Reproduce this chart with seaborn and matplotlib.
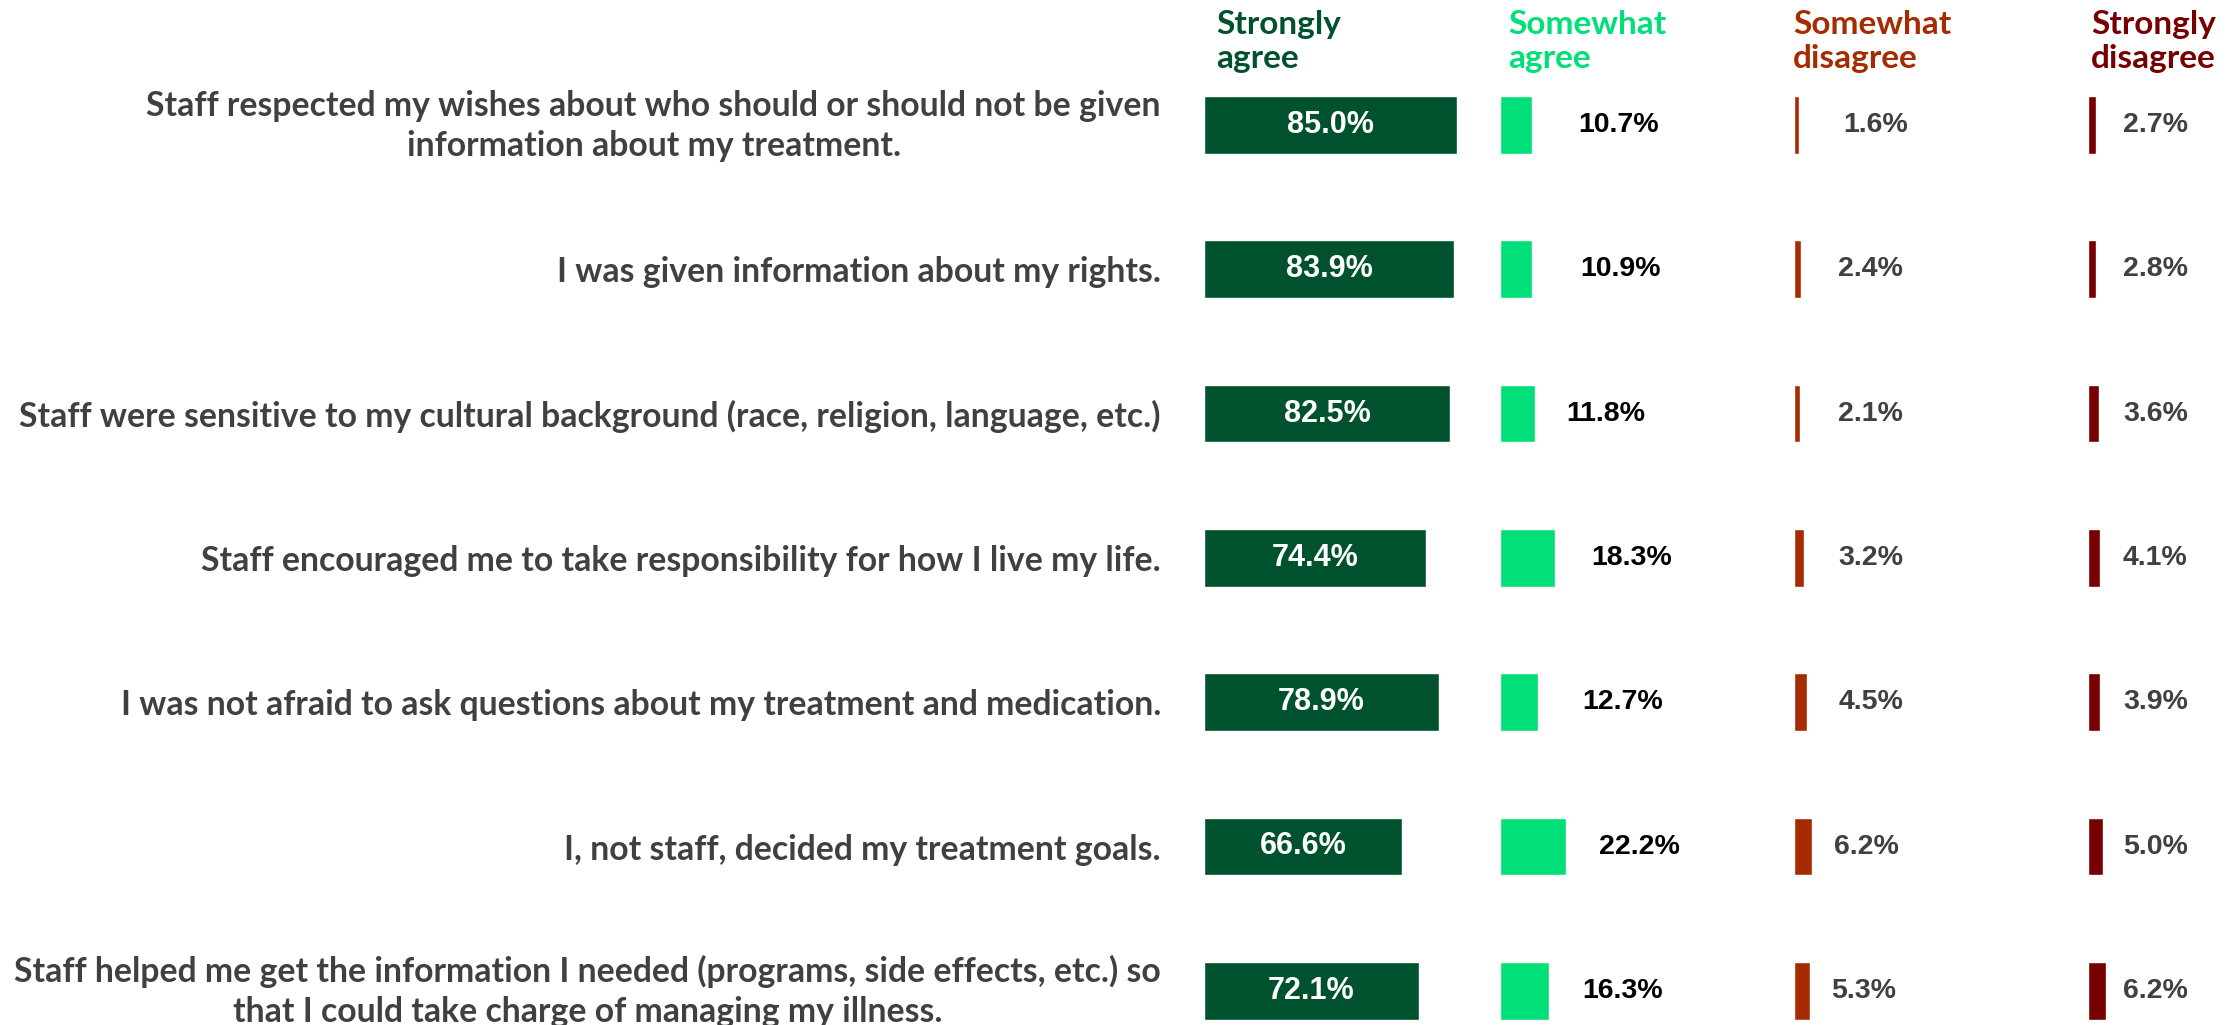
import matplotlib
matplotlib.use("Agg")
import matplotlib.pyplot as plt
import matplotlib.transforms as mtransforms
import seaborn as sns
import pandas as pd

statements = [
    "Staff respected my wishes about who should or should not be given\ninformation about my treatment.",
    "I was given information about my rights.",
    "Staff were sensitive to my cultural background (race, religion, language, etc.)",
    "Staff encouraged me to take responsibility for how I live my life.",
    "I was not afraid to ask questions about my treatment and medication.",
    "I, not staff, decided my treatment goals.",
    "Staff helped me get the information I needed (programs, side effects, etc.) so\nthat I could take charge of managing my illness.",
]
strongly_agree = [85.0, 83.9, 82.5, 74.4, 78.9, 66.6, 72.1]
somewhat_agree = [10.7, 10.9, 11.8, 18.3, 12.7, 22.2, 16.3]
somewhat_disagree = [1.6, 2.4, 2.1, 3.2, 4.5, 6.2, 5.3]
strongly_disagree = [2.7, 2.8, 3.6, 4.1, 3.9, 5.0, 6.2]

headers = ["Strongly\nagree", "Somewhat\nagree", "Somewhat\ndisagree", "Strongly\ndisagree"]
colors = ["#00522E", "#00DF78", "#A62B00", "#760000"]

df = pd.DataFrame({
    "statement": statements,
    "Strongly agree": strongly_agree,
    "Somewhat agree": somewhat_agree,
    "Somewhat disagree": somewhat_disagree,
    "Strongly disagree": strongly_disagree,
})
columns = ["Strongly agree", "Somewhat agree", "Somewhat disagree", "Strongly disagree"]

sns.set_style("white")
humanist = ["Lato", "DejaVu Sans"]
regular = ["Liberation Sans", "DejaVu Sans"]

W, H = 2235, 1025
fig = plt.figure(figsize=(W / 100, H / 100), dpi=100)

px_per_pct = 2.98
panel_left = [1204, 1500, 1794, 2088]
panel_width = [296, 294, 294, 147]
header_x = [1216, 1508, 1793, 2091]
row0, row_step = 125, 144.3

# label positions (in % units) for the outside labels
agree_pad = [15.5, 15.9, 10.3, 12.2, 14.8, 11.0, 11.2]
disagree_x = [16.4, 14.9, 14.9, 14.9, 14.9, 13.4, 12.4]
strong_dis_x = 11.7

for i, col in enumerate(columns):
    ax = fig.add_axes([panel_left[i] / W, 0, panel_width[i] / W, 1])
    sns.barplot(data=df, x=col, y="statement", orient="h", color=colors[i],
                width=0.40, saturation=1, ax=ax)
    ax.set_xlim(0, panel_width[i] / px_per_pct)
    ax.set_ylim((H - row0) / row_step, -row0 / row_step)
    ax.set_xlabel("")
    ax.set_ylabel("")
    ax.set_xticks([])
    sns.despine(ax=ax, left=True, bottom=True)
    ax.patch.set_alpha(0)
    vals = df[col].tolist()
    for j, v in enumerate(vals):
        if i == 0:
            ax.text(v / 2, j, f"{v:.1f}%", ha="center", va="center", color="white",
                    fontsize=22, fontweight="bold", family=regular)
        elif i == 1:
            ax.text(v + agree_pad[j], j, f"{v:.1f}%", ha="left", va="center", color="black",
                    fontsize=20.5, fontweight="bold", family=regular)
        elif i == 2:
            ax.text(disagree_x[j], j, f"{v:.1f}%", ha="left", va="center", color="#404040",
                    fontsize=20.5, fontweight="bold", family=regular)
        else:
            ax.text(strong_dis_x, j, f"{v:.1f}%", ha="left", va="center", color="#404040",
                    fontsize=20.5, fontweight="bold", family=regular)
    if i == 0:
        ax.tick_params(axis="y", length=0, pad=31)
        shift_up = mtransforms.ScaledTranslation(0, 6 / 100, fig.dpi_scale_trans)
        for lab in ax.get_yticklabels():
            lab.set_multialignment("center")
            lab.set_fontsize(24.3)
            lab.set_fontweight("bold")
            lab.set_family(humanist)
            lab.set_color("#404040")
            lab.set_linespacing(1.3)
            # two-line labels sit a bit higher than the bar centre
            if "\n" in lab.get_text():
                lab.set_transform(lab.get_transform() + shift_up)
    else:
        ax.set_yticks([])
    fig.text(header_x[i] / W, 1 - 10 / H, headers[i], ha="left", va="top", color=colors[i],
             fontsize=24, fontweight="bold", family=humanist, linespacing=1.2)

fig.savefig("out.png", dpi=100, facecolor="white")
